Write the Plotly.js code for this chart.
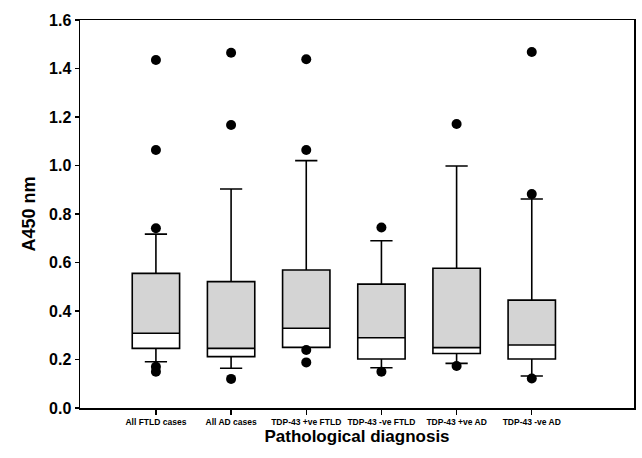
<!DOCTYPE html>
<html><head><meta charset="utf-8">
<script src="https://cdn.plot.ly/plotly-3.0.1.min.js"></script>
<style>html,body{margin:0;padding:0;background:#fff}#c{width:642px;height:458px}</style>
</head><body><div id="c"></div>
<script>
const categories = ["All FTLD cases","All AD cases","TDP-43 +ve FTLD","TDP-43 -ve FTLD","TDP-43 +ve AD","TDP-43 -ve AD"];
const q1 =         [0.246, 0.212, 0.250, 0.202, 0.225, 0.202];
const median =     [0.308, 0.246, 0.329, 0.290, 0.249, 0.260];
const q3 =         [0.555, 0.521, 0.569, 0.511, 0.576, 0.445];
const lowerFence = [0.191, 0.164, 0.250, 0.166, 0.184, 0.132];
const upperFence = [0.717, 0.903, 1.020, 0.690, 0.998, 0.862];
const outlierCat = ["All FTLD cases","All FTLD cases","All FTLD cases","All FTLD cases","All FTLD cases",
  "All AD cases","All AD cases","All AD cases",
  "TDP-43 +ve FTLD","TDP-43 +ve FTLD","TDP-43 +ve FTLD","TDP-43 +ve FTLD",
  "TDP-43 -ve FTLD","TDP-43 -ve FTLD",
  "TDP-43 +ve AD","TDP-43 +ve AD",
  "TDP-43 -ve AD","TDP-43 -ve AD","TDP-43 -ve AD"];
const outlierVal = [1.435, 1.064, 0.741, 0.170, 0.150,
  1.465, 1.167, 0.120,
  1.438, 1.064, 0.239, 0.188,
  0.744, 0.150,
  1.171, 0.173,
  1.468, 0.882, 0.122];

const upperHalf = q3.map((v,i)=>v-median[i]);
const data = [
  {type:'bar', x:categories, y:upperHalf, base:median, width:0.63,
   marker:{color:'#d4d4d4', line:{width:0}}, hoverinfo:'skip', showlegend:false},
  {type:'box', x:categories, q1:q1, median:median, q3:q3,
   lowerfence:lowerFence, upperfence:upperFence, width:0.63, whiskerwidth:0.47,
   fillcolor:'rgba(0,0,0,0)', line:{color:'#000', width:1.6}, boxpoints:false, showlegend:false},
  {type:'scatter', mode:'markers', x:outlierCat, y:outlierVal,
   marker:{color:'#000', size:10}, showlegend:false}
];
const layout = {
  width:642, height:458,
  margin:{l:80, r:8, t:20, b:50},
  paper_bgcolor:'#fff', plot_bgcolor:'#fff',
  font:{family:'Liberation Sans, Arial, sans-serif', color:'#000'},
  xaxis:{type:'category', range:[-1.01, 6.36], showgrid:false, zeroline:false,
    showline:true, linecolor:'#000', linewidth:1.5, mirror:true,
    ticks:'outside', ticklen:5, tickwidth:1.2, tickcolor:'#000', tickangle:0,
    tickfont:{size:8.5, family:'Liberation Sans, Arial, sans-serif', weight:'bold'},
    title:{text:'<b>Pathological diagnosis</b>', font:{size:17}, standoff:4}},
  yaxis:{range:[0,1.6], dtick:0.2, tickformat:'.1f', showgrid:false, zeroline:false,
    showline:true, linecolor:'#000', linewidth:1.5, mirror:true,
    ticks:'outside', ticklen:4, tickwidth:1.2, tickcolor:'#000',
    tickfont:{size:16, weight:'bold'},
    title:{text:'<b>A450 nm</b>', font:{size:18}, standoff:8}},
  barmode:'overlay', boxmode:'overlay'
};
Plotly.newPlot('c', data, layout, {staticPlot:true});
</script></body></html>
